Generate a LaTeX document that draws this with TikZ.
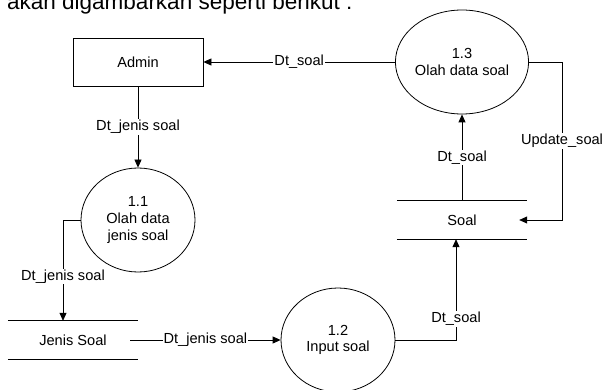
\documentclass[tikz,border=0pt]{standalone}
\usepackage{fontspec}
\setmainfont{Liberation Sans}
\usetikzlibrary{arrows.meta,shapes.geometric}
\begin{document}
\begin{tikzpicture}[x=1pt,y=-1pt,
  every node/.style={font=\fontsize{14.6}{16.8}\selectfont},
  proc/.style={draw, line width=0.8pt, ellipse, minimum width=114pt, minimum height=104pt, inner sep=0pt, align=center},
  entity/.style={draw, line width=0.8pt, rectangle, minimum width=130pt, minimum height=48pt},
  store/.style={minimum width=114pt, minimum height=38pt, inner sep=0pt},
  storeline/.style={line width=0.8pt},
  flow/.style={draw, line width=0.8pt, -{Triangle[length=8pt,width=7pt]}},
  lbl/.style={fill=white, inner sep=1pt}
]
\useasboundingbox (0,0) rectangle (604,390);

% heading line of the surrounding text, running off the top edge
\node[anchor=base west, inner sep=0pt, font=\fontsize{22.5}{26}\selectfont] (heading) at (7,10) {akan digambarkan seperti berikut :};

% external entity and processes
\node[entity] (admin) at (138,62) {Admin};
\node[proc] (p13) at (462,62) {1.3\\Olah data soal};
\node[proc] (p11) at (138,220) {1.1\\Olah data\\jenis soal};
\node[proc] (p12) at (338,340) {1.2\\Input soal};

% data stores
\node[store] (soal) at (462,220) {Soal};
\node[store] (js) at (73,340) {Jenis Soal};
\foreach \s in {soal,js}{
  \draw[storeline] ([xshift=-8pt]\s.north west) -- ([xshift=8pt]\s.north east);
  \draw[storeline] ([xshift=-8pt]\s.south west) -- ([xshift=8pt]\s.south east);
}

% bend points
\coordinate (c1) at (63,220);
\coordinate (c2) at (562,62);

% data flows
\draw[flow] (p13.west) -- node[lbl] {Dt\_soal} (admin.east);
\draw[flow] (admin.south) -- node[lbl] {Dt\_jenis soal} (p11.north);
\draw[flow] (p11.west) -- (c1) -- node[lbl, pos=0.56] {Dt\_jenis soal} (c1 |- js.north);
\draw[flow] (js.east) -- node[lbl] {Dt\_jenis soal} (p12.west);
\draw[flow] (p12.east) -| node[lbl, pos=0.605] {Dt\_soal} ([xshift=-6pt]soal.south);
\draw[flow] (soal.north) -- node[lbl] {Dt\_soal} (p13.south);
\draw[flow] (p13.east) -- (c2) |- node[lbl, pos=0.25] {Update\_soal} (soal.east);
\end{tikzpicture}
\end{document}
